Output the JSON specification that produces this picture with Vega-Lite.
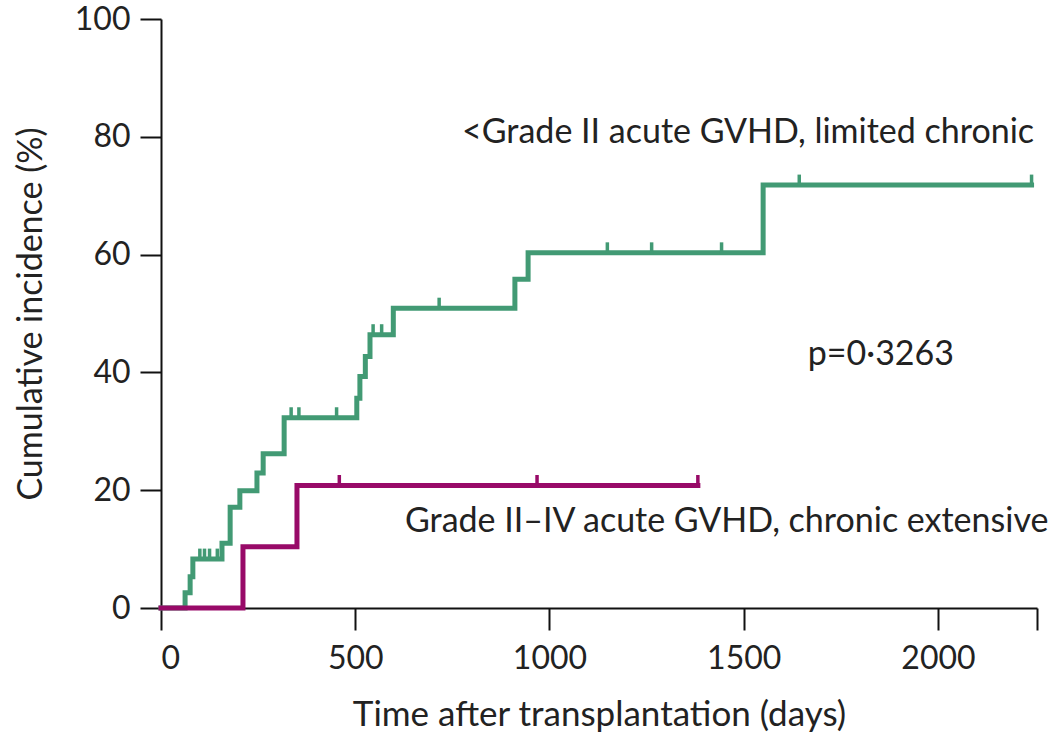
{
  "$schema": "https://vega.github.io/schema/vega-lite/v6.json",
  "width": 876,
  "height": 589,
  "autosize": {"type": "none"},
  "padding": {"left": 161, "top": 19, "right": 13, "bottom": 133},
  "background": "white",
  "config": {"view": {"stroke": null}, "font": "Lato"},
  "datasets": {
    "curves": [
      {"group": "low", "day": 0, "value": 0},
      {"group": "low", "day": 62, "value": 2.6},
      {"group": "low", "day": 75, "value": 5.3},
      {"group": "low", "day": 82, "value": 8.3},
      {"group": "low", "day": 157, "value": 11.0},
      {"group": "low", "day": 178, "value": 17.1},
      {"group": "low", "day": 203, "value": 19.9},
      {"group": "low", "day": 247, "value": 22.9},
      {"group": "low", "day": 263, "value": 26.2},
      {"group": "low", "day": 317, "value": 32.3},
      {"group": "low", "day": 504, "value": 35.6},
      {"group": "low", "day": 512, "value": 39.3},
      {"group": "low", "day": 526, "value": 42.7},
      {"group": "low", "day": 538, "value": 46.4},
      {"group": "low", "day": 598, "value": 50.9},
      {"group": "low", "day": 911, "value": 55.8},
      {"group": "low", "day": 945, "value": 60.3},
      {"group": "low", "day": 1550, "value": 71.8},
      {"group": "low", "day": 2241, "value": 71.8},
      {"group": "high", "day": 0, "value": 0},
      {"group": "high", "day": 211, "value": 10.4},
      {"group": "high", "day": 350, "value": 20.8},
      {"group": "high", "day": 1382, "value": 20.8}
    ],
    "censor": [
      {"group": "low", "day": 100, "value": 8.3},
      {"group": "low", "day": 112, "value": 8.3},
      {"group": "low", "day": 125, "value": 8.3},
      {"group": "low", "day": 145, "value": 8.3},
      {"group": "low", "day": 335, "value": 32.3},
      {"group": "low", "day": 355, "value": 32.3},
      {"group": "low", "day": 452, "value": 32.3},
      {"group": "low", "day": 546, "value": 46.4},
      {"group": "low", "day": 568, "value": 46.4},
      {"group": "low", "day": 716, "value": 50.9},
      {"group": "low", "day": 1149, "value": 60.3},
      {"group": "low", "day": 1263, "value": 60.3},
      {"group": "low", "day": 1443, "value": 60.3},
      {"group": "low", "day": 1643, "value": 71.8},
      {"group": "low", "day": 2241, "value": 71.8},
      {"group": "high", "day": 459, "value": 20.8},
      {"group": "high", "day": 968, "value": 20.8},
      {"group": "high", "day": 1382, "value": 20.8}
    ],
    "notes": [
      {"day": 775, "value": 80.6, "label": "<Grade II acute GVHD, limited chronic"},
      {"day": 1665, "value": 43.0, "label": "p=0·3263"},
      {"day": 628, "value": 14.6, "label": "Grade II–IV acute GVHD, chronic extensive"}
    ]
  },
  "layer": [
    {
      "data": {"name": "curves"},
      "mark": {"type": "line", "interpolate": "step-after", "strokeWidth": 5, "strokeCap": "square", "strokeJoin": "miter"},
      "encoding": {
        "x": {
          "field": "day", "type": "quantitative",
          "scale": {"domain": [0, 2255], "nice": false, "zero": false},
          "axis": {
            "values": [0, 500, 1000, 1500, 2000, 2255],
            "labelExpr": "datum.value > 2100 ? '' : datum.label",
            "format": "d",
            "grid": false,
            "domainColor": "#111", "domainWidth": 2,
            "tickColor": "#111", "tickWidth": 2, "tickSize": 22,
            "labelFontSize": 32, "labelColor": "#222", "labelPadding": 13,
            "labelFont": "Lato",
            "title": "Time after transplantation (days)",
            "titleFont": "Lato",
            "titleFontSize": 35, "titleFontWeight": "normal", "titleColor": "#222",
            "titlePadding": 23
          }
        },
        "y": {
          "field": "value", "type": "quantitative",
          "scale": {"domain": [0, 100], "nice": false},
          "axis": {
            "values": [0, 20, 40, 60, 80, 100],
            "grid": false,
            "domainColor": "#111", "domainWidth": 2,
            "tickColor": "#111", "tickWidth": 2, "tickSize": 21,
            "labelFontSize": 32, "labelColor": "#222", "labelPadding": 10,
            "labelFont": "Lato",
            "title": "Cumulative incidence (%)",
            "titleFont": "Lato",
            "titleFontSize": 34, "titleFontWeight": "normal", "titleColor": "#222",
            "titlePadding": 26
          }
        },
        "color": {
          "field": "group", "type": "nominal",
          "scale": {"domain": ["low", "high"], "range": ["#429a74", "#980a68"]},
          "legend": null
        },
        "detail": {"field": "group"}
      }
    },
    {
      "data": {"name": "censor"},
      "mark": {"type": "tick", "orient": "vertical", "size": 11, "thickness": 3.5, "yOffset": -5, "opacity": 1},
      "encoding": {
        "x": {"field": "day", "type": "quantitative"},
        "y": {"field": "value", "type": "quantitative"},
        "color": {"field": "group", "type": "nominal", "legend": null}
      }
    },
    {
      "data": {"name": "notes"},
      "mark": {"type": "text", "align": "left", "baseline": "middle", "fontSize": 34, "font": "Lato", "color": "#222"},
      "encoding": {
        "x": {"field": "day", "type": "quantitative"},
        "y": {"field": "value", "type": "quantitative"},
        "text": {"field": "label"}
      }
    }
  ]
}
